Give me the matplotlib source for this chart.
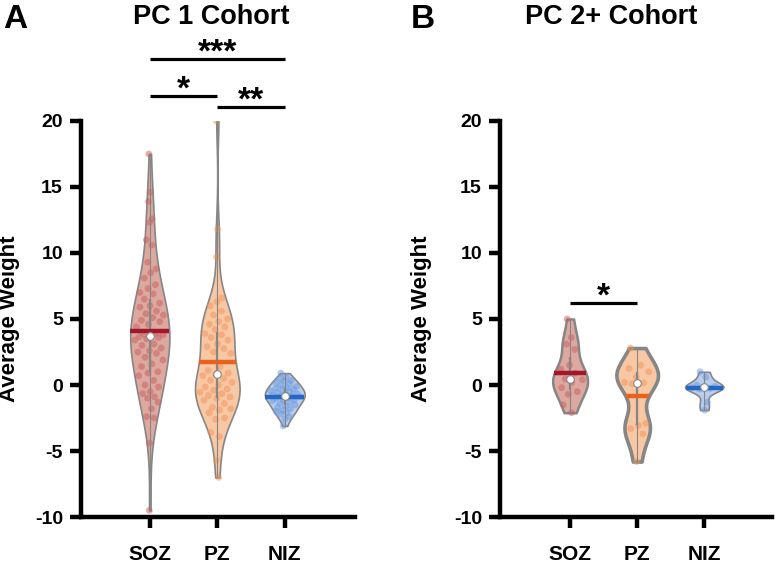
import numpy as np
import matplotlib
matplotlib.use('Agg')
import matplotlib.pyplot as plt
from matplotlib import mlab

plt.rcParams['font.family'] = ['Liberation Sans', 'DejaVu Sans']
plt.rcParams['font.weight'] = 'bold'
plt.rcParams['axes.unicode_minus'] = False

groups = ['SOZ', 'PZ', 'NIZ']

# PC 1 cohort
soz_pc1 = [17.5, 14.6, 13.9, 12.6, 12.3, 11.0, 10.6, 9.3, 8.8, 8.5,
           8.1, 7.6, 7.3, 7.0, 6.9, 6.5, 6.2, 6.0, 5.9, 5.6,
           5.4, 5.3, 5.1, 4.9, 4.8, 4.6, 4.4, 3.9, 3.85, 3.8, 3.7,
           3.65, 3.6, 3.5, 3.4, 3.1, 3.0, 2.8, 2.6, 2.5, 2.4,
           2.1, 1.9, 1.6, 1.4, 1.0, 0.9, 0.7, 0.35, 0.0, -0.15,
           -0.5, -0.65, -0.9, -1.0, -1.3, -1.8, -2.4, -2.5, -4.4, -9.5]
pz_pc1 = [20.0, 11.8, 9.7, 6.6, 6.3, 6.0, 5.6, 5.3, 5.0, 4.8,
          4.6, 4.4, 4.2, 3.9, 3.8, 3.6, 3.4, 3.1, 2.9, 2.75,
          2.5, 2.4, 1.4, 1.1, 0.9, 0.8,
          0.7, 0.5, 0.35, 0.2, 0.0, -0.15, -0.3, -0.4, -0.55, -0.65,
          -0.8, -0.9, -1.0, -1.15, -1.4, -1.7, -1.8, -1.9, -2.1, -2.5,
          -2.6, -3.6, -3.9, -5.7, -7.0]
niz_pc1 = [0.9, 0.6, 0.5, 0.35, 0.3, 0.2, 0.1, 0.0, -0.1, -0.2,
           -0.25, -0.3, -0.35, -0.45, -0.5, -0.6, -0.65, -0.7, -0.75, -0.8,
           -0.85, -0.9, -0.95, -1.0, -1.1, -1.15, -1.2, -1.3, -1.4, -1.5,
           -1.6, -1.7, -1.8, -1.9, -2.0, -2.1, -2.2, -2.4, -2.6, -3.1]

# PC 2+ cohort
soz_pc2 = [5.0, 3.6, 3.1, 2.7, 1.5, 1.2, 0.9, 0.45, 0.4, 0.2, -0.2, -0.5, -0.7, -1.5, -2.1]
pz_pc2 = [2.8, 1.5, 1.25, 1.0, 0.6, 0.2, 0.15, 0.1, -2.9, -3.05, -3.3, -3.7, -5.8]
niz_pc2 = [1.0, 0.6, 0.0, -0.1, -0.15, -0.2, -0.25, -0.3, -1.3, -1.9]

fill_colors = ['#dca89f', '#f8c7a4', '#b9cdee']
dot_colors = ['#c8625f', '#f09459', '#6a98dc']
mean_colors = ['#a3172c', '#e8611f', '#2268c4']
edge_color = '#868686'


def draw_violins(ax, datasets, widths, edge_widths, bws):
    for i, data in enumerate(datasets):
        data = np.asarray(data, dtype=float)
        kde = mlab.GaussianKDE(data, bws[i])
        ys = np.linspace(data.min(), data.max(), 300)
        dens = kde.evaluate(ys)
        half = dens / dens.max() * widths[i] / 2
        ax.fill_betweenx(ys, i - half, i + half, facecolor=fill_colors[i],
                         edgecolor=edge_color, linewidth=edge_widths[i], zorder=2)

        # spread the points inside the violin
        u = (np.arange(len(data)) * 0.6180339) % 1.0 * 2 - 1
        hw = np.interp(data, ys, half)
        ax.scatter(i + u * hw * 0.8, data, s=24, color=dot_colors[i], alpha=0.5,
                   edgecolors='none', zorder=3)

        q1, med, q3 = np.percentile(data, [25, 50, 75])
        ax.vlines(i, data.min(), data.max(), color=edge_color, lw=0.8, zorder=4)
        ax.vlines(i, q1, q3, color=edge_color, lw=1.6, zorder=4)
        m = data.mean()
        hm = np.interp(m, ys, half)
        ax.hlines(m, i - hm, i + hm, color=mean_colors[i], lw=3.2, zorder=5)
        ax.plot(i, med, 'o', mfc='white', mec=edge_color, ms=5.5, mew=0.8, zorder=6)


def style_axes(ax, label_x):
    ax.set_ylim(-10, 20)
    ax.set_yticks(range(-10, 21, 5))
    ax.set_xticks(range(len(groups)))
    ax.set_xticklabels(groups)
    for s in ['top', 'right']:
        ax.spines[s].set_visible(False)
    for s in ['left', 'bottom']:
        ax.spines[s].set_linewidth(3.2)
    ax.tick_params(axis='both', width=3.2, length=8, direction='out')
    ax.tick_params(axis='y', labelsize=14, pad=5)
    ax.tick_params(axis='x', labelsize=15, pad=12)
    ax.set_ylabel('Average Weight', fontsize=16, fontweight='bold')
    ax.yaxis.set_label_coords(label_x, 0.5)


def sig_bar(ax, x0, x1, y, stars):
    ax.plot([x0, x1], [y, y], color='black', lw=2.3, clip_on=False,
            solid_capstyle='butt')
    ax.text((x0 + x1) / 2, y - 0.22, stars, ha='center', va='baseline',
            fontsize=24, fontweight='bold', clip_on=False)


fig = plt.figure(figsize=(7.77, 5.64), dpi=100)
ax1 = fig.add_axes([0.1042, 0.0833, 0.3527, 0.7022])
ax2 = fig.add_axes([0.6435, 0.0833, 0.3501, 0.7022])

draw_violins(ax1, [soz_pc1, pz_pc1, niz_pc1], [0.58, 0.66, 0.59], [1.2, 1.2, 1.2],
             ['scott', 0.35, 'scott'])
draw_violins(ax2, [soz_pc2, pz_pc2, niz_pc2], [0.52, 0.62, 0.57], [1.8, 2.6, 1.2],
             [0.45, 0.45, 0.45])

style_axes(ax1, -0.222)
style_axes(ax2, -0.25)
ax1.set_xlim(-1.02, 3.04)
ax2.set_xlim(-1.045, 3.01)

sig_bar(ax1, 0, 2, 24.7, '***')
sig_bar(ax1, 0, 1, 21.9, '*')
sig_bar(ax1, 1, 2, 21.05, '**')
sig_bar(ax2, 0, 1, 6.2, '*')

fig.text(0.004, 0.993, 'A', fontsize=24, fontweight='bold', va='top')
fig.text(0.528, 0.993, 'B', fontsize=24, fontweight='bold', va='top')
fig.text(0.2716, 0.993, 'PC 1 Cohort', fontsize=19.5, fontweight='bold', ha='center', va='top')
fig.text(0.786, 0.993, 'PC 2+ Cohort', fontsize=19.5, fontweight='bold', ha='center', va='top')

fig.savefig('out.png', dpi=100)
